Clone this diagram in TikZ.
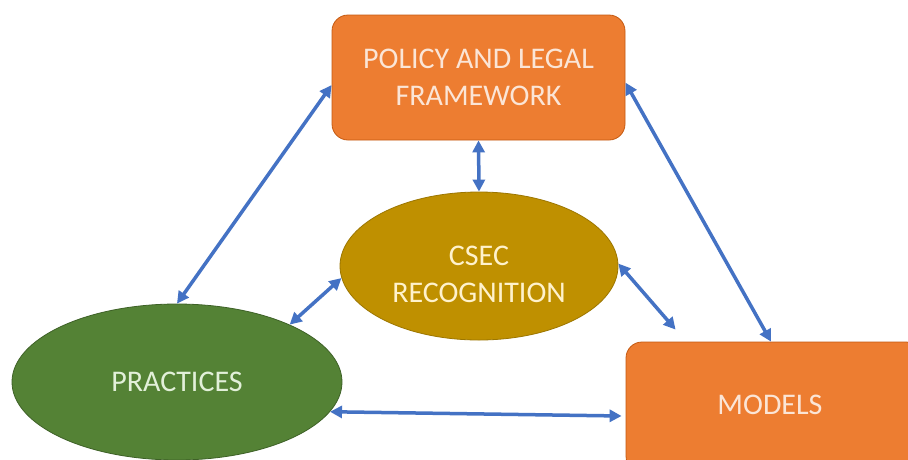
\documentclass[tikz,border=0pt]{standalone}
\usepackage{fontspec}
\setmainfont{Carlito}
\usetikzlibrary{shapes.geometric,arrows.meta,calc}
\definecolor{orfill}{HTML}{ED7D31}
\definecolor{ordraw}{HTML}{C55A11}
\definecolor{grfill}{HTML}{548235}
\definecolor{grdraw}{HTML}{3E6127}
\definecolor{gdfill}{HTML}{BF9000}
\definecolor{gddraw}{HTML}{9C7600}
\definecolor{arrblue}{HTML}{4472C4}
\definecolor{lighttxt}{HTML}{FBE5D6}
\definecolor{greentxt}{HTML}{E2F0D9}
\definecolor{goldtxt}{HTML}{FFF2CC}
\begin{document}
\begin{tikzpicture}[x=1pt,y=-1pt,
  bigtxt/.style={font=\fontsize{30}{37}\selectfont},
  orbox/.style={draw=ordraw,line width=0.8pt,fill=orfill,rounded corners=16pt,text=lighttxt,align=center,bigtxt,inner sep=0pt},
  grell/.style={ellipse,draw=grdraw,line width=0.8pt,fill=grfill,text=greentxt,bigtxt,inner sep=0pt},
  gdell/.style={ellipse,draw=gddraw,line width=0.8pt,fill=gdfill,text=goldtxt,align=center,bigtxt,inner sep=0pt},
  arr/.style={draw=arrblue,line width=3.5pt,{Triangle[length=12pt,width=12pt]}-{Triangle[length=12pt,width=12pt]}}]
\useasboundingbox (0,0) rectangle (908,459);
\fill[white] (0,0) rectangle (908,459);
\begin{scope}
\clip (0,0) rectangle (908,459);
\node[orbox,minimum width=293pt,minimum height=125pt] (pol) at (478.5,77.5) {POLICY AND LEGAL\\FRAMEWORK};
\node[gdell,minimum width=278pt,minimum height=148pt] (csec) at (479,266) {};
\node[text=goldtxt,align=center,bigtxt] (csect) at (479,274) {CSEC\\RECOGNITION};
\node[grell,minimum width=330pt,minimum height=156pt] (pra) at (177,382) {PRACTICES};
\node[orbox,minimum width=296pt,minimum height=130pt] (mod) at (774,407) {};
\node[text=lighttxt,bigtxt] (modt) at (770,405) {MODELS};
\end{scope}
\draw[arr] ($(pol.north west)!0.56!(pol.south west)$) -- (pra.north);
\draw[arr] (pol.south) -- (csec.north);
\draw[arr] ($(pol.north east)!0.54!(pol.south east)$) -- ([xshift=-3pt]mod.north);
\draw[arr] (csec.185) -- (pra.27);
\draw[arr] (csec.1) -- ([xshift=50pt,yshift=12pt]mod.north west);
\draw[arr] (pra.-11) -- ([xshift=-4pt,yshift=-9pt]mod.west);
\end{tikzpicture}
\end{document}
